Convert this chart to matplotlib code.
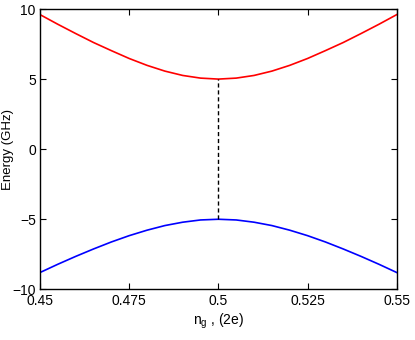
import numpy as np
import matplotlib.pyplot as plt

plt.rcParams['font.family'] = ['Liberation Sans', 'DejaVu Sans']

# charge offset n_g (units of 2e)
ng = [0.45, 0.455, 0.46, 0.465, 0.47, 0.475, 0.48, 0.485, 0.49, 0.495, 0.5,
      0.505, 0.51, 0.515, 0.52, 0.525, 0.53, 0.535, 0.54, 0.545, 0.55]

# energies (GHz)
e_upper = [9.60, 8.91, 8.25, 7.61, 7.03, 6.47, 5.98, 5.57, 5.26, 5.07, 5.00,
           5.07, 5.26, 5.57, 5.98, 6.47, 7.03, 7.61, 8.25, 8.91, 9.60]
e_lower = [-8.80, -8.21, -7.65, -7.12, -6.62, -6.17, -5.78, -5.45, -5.21, -5.05, -5.00,
           -5.05, -5.21, -5.45, -5.78, -6.17, -6.62, -7.12, -7.65, -8.21, -8.80]

# gap at degeneracy point
gap_x = [0.5, 0.5]
gap_y = [-5.0, 5.0]

xticks = [0.45, 0.475, 0.5, 0.525, 0.55]
xticklabels = ['0.45', '0.475', '0.5', '0.525', '0.55']
yticks = [-10, -5, 0, 5, 10]

fig = plt.figure(figsize=(4.15, 3.4), dpi=100)
ax = fig.add_axes([0.0964, 0.149, 0.8596, 0.8245])

ax.plot(ng, e_upper, color='red', linewidth=1.2)
ax.plot(ng, e_lower, color='blue', linewidth=1.2)
ax.plot(gap_x, gap_y, color='black', linestyle='--', linewidth=1.0, dashes=(3, 2))

ax.set_xlim(0.45, 0.55)
ax.set_ylim(-10, 10)
ax.set_xticks(xticks)
ax.set_xticklabels(xticklabels)
ax.set_yticks(yticks)
ax.tick_params(direction='in', top=True, right=True, labelsize=10, length=4, width=0.8, pad=3)
for s in ax.spines.values():
    s.set_linewidth(1.0)

ax.set_xlabel(r'n$_\mathregular{g}$ , (2e)', fontsize=10, labelpad=3)
ax.set_ylabel('Energy (GHz)', fontsize=9.5)
ax.yaxis.set_label_coords(-0.074, 0.5)

fig.savefig('out.png', dpi=100)
